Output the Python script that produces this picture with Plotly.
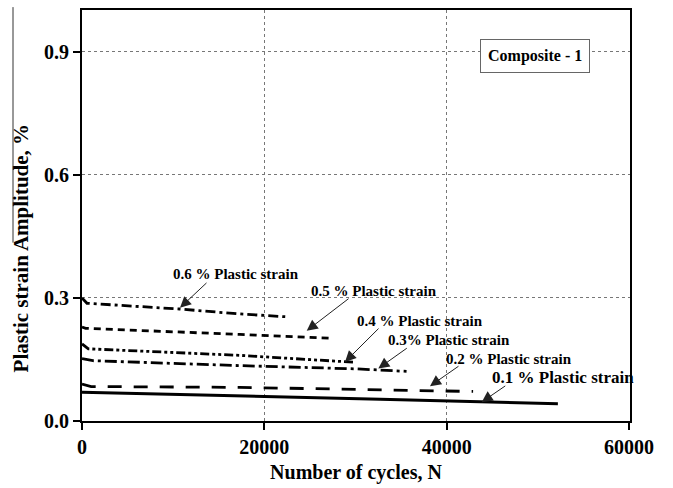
import plotly.graph_objects as go

# Plastic strain amplitude vs. number of cycles for Composite - 1
cycles_06 = [0, 550, 10700, 17300, 22450]
amp_06 = [0.300, 0.287, 0.273, 0.261, 0.254]

cycles_05 = [0, 400, 17300, 27200]
amp_05 = [0.229, 0.226, 0.211, 0.202]

cycles_04 = [0, 700, 17300, 30000]
amp_04 = [0.188, 0.176, 0.160, 0.143]

cycles_03 = [0, 1200, 17300, 30200, 35600]
amp_03 = [0.152, 0.147, 0.135, 0.127, 0.121]

cycles_02 = [0, 1000, 17300, 32700, 42900]
amp_02 = [0.090, 0.084, 0.082, 0.076, 0.072]

cycles_01 = [0, 20000, 32700, 52200]
amp_01 = [0.070, 0.060, 0.053, 0.042]

x_ticks = [0, 20000, 40000, 60000]
x_tick_text = ["0", "20000", "40000", "60000"]
y_ticks = [0.0, 0.3, 0.6, 0.9]
y_tick_text = ["0.0", "0.3", "0.6", "0.9"]

series_labels = ["0.6 % Plastic strain", "0.5 % Plastic strain", "0.4 % Plastic strain",
                 "0.3% Plastic strain", "0.2 % Plastic strain", "0.1 % Plastic strain"]
# label centres (cycles, amplitude)
label_x = [16840, 32030, 37080, 40310, 46800, 52790]
label_y = [0.358, 0.317, 0.245, 0.198, 0.150, 0.106]
label_size = [15, 15, 15, 15, 15, 17]
# arrow tails and heads (cycles, amplitude)
arrow_tail_x = [13820, 29400, 32690, 35790, 41460, 46590]
arrow_tail_y = [0.340, 0.301, 0.229, 0.180, 0.136, 0.088]
arrow_head_x = [10750, 24650, 28850, 32500, 38170, 43840]
arrow_head_y = [0.276, 0.220, 0.144, 0.128, 0.085, 0.046]

FONT = "Liberation Serif"

fig = go.Figure()

styles = [
    (cycles_06, amp_06, "10px,4px,3px,4px", 2.8),
    (cycles_05, amp_05, "7px,5px", 2.8),
    (cycles_04, amp_04, "9px,3px,3px,3px,3px,3px", 2.8),
    (cycles_03, amp_03, "12px,4px,3px,4px", 2.8),
    (cycles_02, amp_02, "14px,12px", 2.8),
    (cycles_01, amp_01, "solid", 3.0),
]
for (xs, ys, dash, w), name in zip(styles, series_labels):
    fig.add_trace(go.Scatter(x=xs, y=ys, mode="lines", name=name,
                             line=dict(color="black", width=w, dash=dash),
                             showlegend=False))

for i, txt in enumerate(series_labels):
    fig.add_annotation(x=label_x[i], y=label_y[i], xref="x", yref="y", text=txt,
                       showarrow=False, xanchor="center", yanchor="middle",
                       font=dict(family=FONT, size=label_size[i], color="black", weight="bold"))
    fig.add_annotation(x=arrow_head_x[i], y=arrow_head_y[i], xref="x", yref="y",
                       ax=arrow_tail_x[i], ay=arrow_tail_y[i], axref="x", ayref="y",
                       text="", showarrow=True, arrowhead=2, arrowsize=2.2,
                       arrowwidth=1, arrowcolor="#222")

fig.add_annotation(x=49740, y=0.891, xref="x", yref="y", text="Composite - 1",
                   showarrow=False, bgcolor="white", bordercolor="#666", borderwidth=1,
                   borderpad=7,
                   font=dict(family=FONT, size=16, color="black", weight="bold"))

# y-axis title
fig.add_annotation(x=-0.1113, y=0.42, xref="paper", yref="paper",
                   text="Plastic strain Amplitude, %", textangle=-90, showarrow=False,
                   xanchor="center", yanchor="middle",
                   font=dict(family=FONT, size=21, color="black", weight="bold"))
fig.add_shape(type="line", xref="paper", yref="paper", x0=-0.1259, x1=-0.1259,
              y0=0.434, y1=1.007, line=dict(color="#333", width=1))

fig.update_layout(
    width=673, height=488,
    margin=dict(l=82, r=43, t=8, b=65),
    paper_bgcolor="white", plot_bgcolor="white",
    font=dict(family=FONT, color="black"),
    xaxis=dict(range=[0, 60110], tickvals=x_ticks, ticktext=x_tick_text,
               showline=True, linecolor="black", linewidth=2, mirror=True,
               ticks="outside", ticklen=7, tickwidth=1.5, tickcolor="black",
               showgrid=True, gridcolor="#777", griddash="dot", gridwidth=1,
               zeroline=False,
               tickfont=dict(family=FONT, size=20, color="black", weight="bold"),
               title=dict(text="Number of cycles, N", standoff=8,
                          font=dict(family=FONT, size=20, color="black", weight="bold"))),
    yaxis=dict(range=[0, 1.002], tickvals=y_ticks, ticktext=y_tick_text,
               showline=True, linecolor="black", linewidth=2, mirror=True,
               ticks="outside", ticklen=7, tickwidth=1.5, tickcolor="black",
               showgrid=True, gridcolor="#777", griddash="dot", gridwidth=1,
               zeroline=False,
               tickfont=dict(family=FONT, size=20, color="black", weight="bold")),
)

fig.write_html("out.html")
